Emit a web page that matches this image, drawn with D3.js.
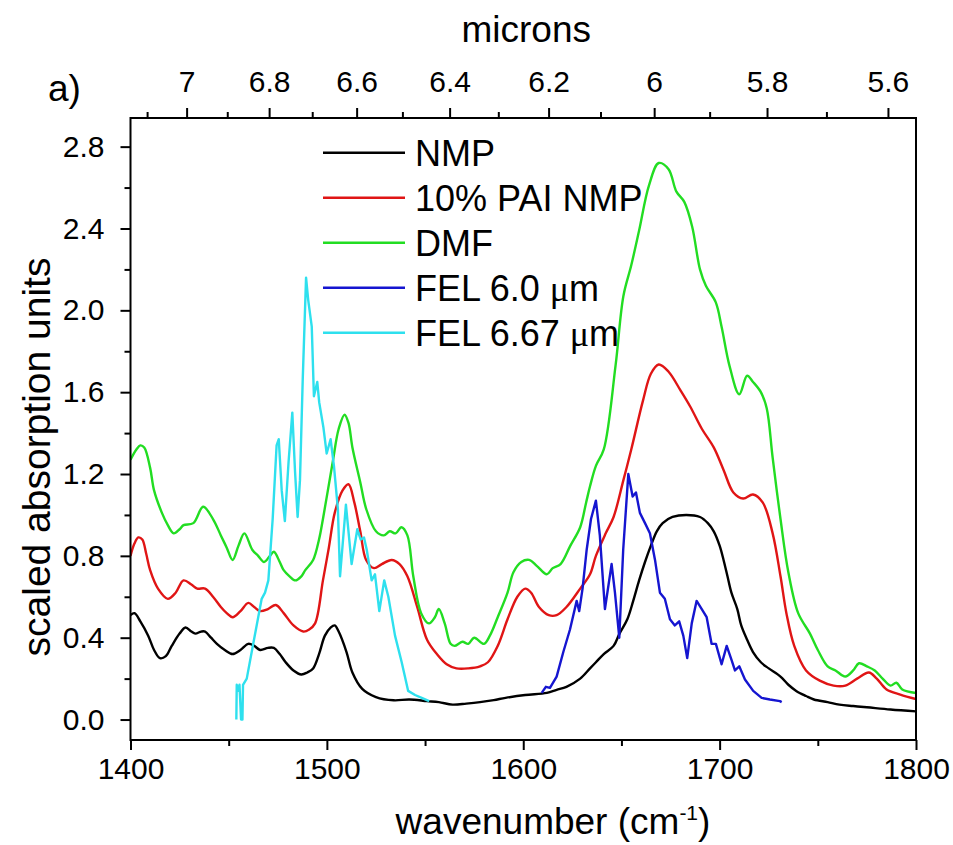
<!DOCTYPE html>
<html>
<head>
<meta charset="utf-8">
<script src="https://d3js.org/d3.v7.min.js"></script>
<style>
  body { margin: 0; background: #fff; }
  text { font-family: "Liberation Sans", Arial, sans-serif; fill: #000; }
</style>
</head>
<body>
<div id="chart"></div>
<script>
// data: [wavenumber cm-1, scaled absorption]
const nmp = [[1400,0.51],[1402,0.52],[1405,0.48],[1409,0.41],[1412,0.34],[1415,0.30],[1418,0.31],[1421,0.36],[1425,0.42],[1428,0.45],[1431,0.43],[1433,0.42],[1436,0.43],[1438,0.43],[1441,0.40],[1444,0.37],[1448,0.34],[1452,0.32],[1456,0.34],[1460,0.37],[1463,0.36],[1466,0.34],[1470,0.35],[1473,0.35],[1476,0.32],[1479,0.28],[1483,0.24],[1487,0.22],[1490,0.23],[1493,0.25],[1496,0.32],[1499,0.41],[1502,0.45],[1504,0.46],[1506,0.43],[1510,0.33],[1513,0.23],[1518,0.15],[1525,0.11],[1534,0.094],[1542,0.098],[1551,0.09],[1557,0.085],[1564,0.073],[1571,0.078],[1578,0.085],[1585,0.095],[1591,0.106],[1601,0.12],[1612,0.13],[1617,0.145],[1622,0.16],[1629,0.20],[1634,0.25],[1637,0.28],[1641,0.32],[1646,0.36],[1649,0.42],[1653,0.49],[1656,0.58],[1659,0.68],[1662,0.77],[1665,0.85],[1668,0.92],[1671,0.96],[1676,0.99],[1683,1.00],[1690,0.99],[1694,0.96],[1697,0.92],[1700,0.85],[1702,0.78],[1704,0.70],[1706,0.62],[1709,0.54],[1711,0.46],[1714,0.39],[1717,0.33],[1721,0.28],[1725,0.25],[1731,0.21],[1735,0.17],[1739,0.14],[1744,0.115],[1748,0.098],[1755,0.085],[1761,0.073],[1768,0.066],[1775,0.06],[1787,0.049],[1800,0.04]];

const paiNmp = [[1400,0.80],[1402,0.86],[1404,0.89],[1406,0.88],[1408,0.81],[1410,0.73],[1414,0.64],[1419,0.59],[1423,0.62],[1427,0.68],[1431,0.66],[1434,0.64],[1438,0.64],[1442,0.60],[1446,0.55],[1449,0.52],[1452,0.50],[1456,0.53],[1460,0.57],[1463,0.55],[1466,0.53],[1470,0.54],[1474,0.56],[1478,0.52],[1483,0.46],[1488,0.43],[1491,0.44],[1494,0.47],[1498,0.68],[1501,0.84],[1504,1.01],[1508,1.12],[1511,1.15],[1514,1.06],[1517,0.92],[1520,0.78],[1524,0.74],[1528,0.76],[1533,0.78],[1537,0.76],[1541,0.70],[1546,0.55],[1551,0.39],[1556,0.32],[1561,0.27],[1566,0.25],[1572,0.25],[1578,0.26],[1582,0.28],[1587,0.36],[1592,0.49],[1597,0.60],[1601,0.64],[1604,0.62],[1608,0.55],[1613,0.51],[1617,0.51],[1622,0.55],[1629,0.64],[1634,0.71],[1637,0.80],[1642,0.91],[1646,0.99],[1651,1.17],[1655,1.32],[1661,1.56],[1665,1.69],[1669,1.735],[1674,1.70],[1680,1.61],[1685,1.53],[1691,1.42],[1697,1.33],[1702,1.22],[1707,1.11],[1712,1.08],[1717,1.10],[1722,1.06],[1727,0.91],[1731,0.70],[1734,0.52],[1738,0.36],[1744,0.24],[1751,0.19],[1758,0.166],[1764,0.166],[1770,0.20],[1776,0.23],[1780,0.20],[1785,0.147],[1792,0.122],[1800,0.10]];

const dmf = [[1400,1.27],[1403,1.32],[1405,1.34],[1407,1.33],[1410,1.23],[1412,1.12],[1416,1.01],[1419,0.95],[1422,0.91],[1425,0.93],[1427,0.95],[1432,0.96],[1437,1.04],[1442,0.98],[1446,0.90],[1449,0.84],[1452,0.78],[1455,0.85],[1458,0.91],[1462,0.83],[1465,0.80],[1468,0.77],[1471,0.80],[1473,0.82],[1476,0.77],[1478,0.73],[1481,0.70],[1484,0.68],[1487,0.70],[1489,0.73],[1493,0.78],[1496,0.88],[1498,0.98],[1503,1.26],[1506,1.42],[1509,1.49],[1511,1.45],[1513,1.33],[1517,1.16],[1520,1.03],[1525,0.92],[1529,0.90],[1532,0.92],[1535,0.91],[1538,0.94],[1541,0.90],[1544,0.70],[1548,0.52],[1552,0.47],[1555,0.50],[1557,0.54],[1560,0.47],[1563,0.37],[1565,0.36],[1569,0.38],[1572,0.37],[1575,0.40],[1580,0.37],[1583,0.41],[1587,0.50],[1592,0.62],[1595,0.72],[1599,0.77],[1603,0.78],[1607,0.75],[1612,0.71],[1615,0.74],[1619,0.76],[1624,0.85],[1629,0.94],[1632,1.06],[1634,1.14],[1637,1.24],[1641,1.32],[1647,1.73],[1651,2.07],[1655,2.22],[1659,2.39],[1664,2.61],[1669,2.72],[1674,2.69],[1678,2.58],[1682,2.53],[1686,2.41],[1690,2.20],[1693,2.12],[1698,2.04],[1701,1.92],[1705,1.73],[1710,1.59],[1714,1.68],[1717,1.65],[1721,1.60],[1724,1.52],[1727,1.28],[1731,0.98],[1735,0.72],[1740,0.52],[1746,0.42],[1750,0.34],[1755,0.26],[1759,0.24],[1764,0.21],[1768,0.24],[1771,0.275],[1775,0.26],[1779,0.24],[1783,0.20],[1787,0.166],[1790,0.18],[1793,0.147],[1800,0.13]];

const fel60 = [[1609.4,0.13],[1611.5,0.16],[1613.6,0.155],[1617,0.21],[1620.4,0.33],[1623.8,0.44],[1627.2,0.58],[1628.5,0.53],[1630.2,0.64],[1632.3,0.83],[1634.5,0.98],[1637,1.07],[1639,0.90],[1641.6,0.54],[1645,0.76],[1646.7,0.62],[1648.9,0.40],[1650.9,0.83],[1653.5,1.20],[1655.7,1.09],[1657.4,1.11],[1659.4,1.01],[1662,0.96],[1664.5,0.91],[1667.1,0.78],[1669.6,0.62],[1672.1,0.59],[1674.7,0.49],[1677.2,0.46],[1679.4,0.48],[1681.5,0.41],[1683.5,0.30],[1685.8,0.47],[1688.3,0.58],[1690.9,0.54],[1693.4,0.50],[1695.9,0.37],[1698.1,0.37],[1701,0.27],[1703.6,0.36],[1706.1,0.29],[1707.8,0.24],[1710,0.26],[1712.9,0.196],[1717.1,0.14],[1721.4,0.106],[1725.6,0.098],[1730.7,0.09],[1731.6,0.085]];

const fel667 = [[1453.9,0.0],[1454.1,0.17],[1455.0,0.14],[1455.5,0.17],[1456.3,0.0],[1457.0,0.0],[1457.3,0.17],[1459.2,0.20],[1462.5,0.37],[1466.8,0.59],[1468.5,0.62],[1470.2,0.68],[1472.4,0.98],[1474.4,1.34],[1475.5,1.37],[1477.0,1.12],[1478.6,0.97],[1480.5,1.26],[1482.4,1.50],[1483.8,1.21],[1485.1,0.99],[1486.3,1.17],[1487.7,1.66],[1489.4,2.16],[1490.5,2.05],[1492.3,1.92],[1493.4,1.58],[1495.1,1.65],[1496.1,1.55],[1498.2,1.43],[1499.9,1.30],[1501.9,1.37],[1503.6,1.24],[1505.6,1.03],[1506.7,0.70],[1509.7,1.05],[1512.6,0.76],[1515.5,0.93],[1517.2,0.88],[1518.9,0.89],[1520.3,0.83],[1522.8,0.68],[1524.5,0.71],[1526.7,0.53],[1529.2,0.68],[1531.3,0.60],[1534.7,0.41],[1538.1,0.28],[1541.4,0.14],[1544.9,0.12],[1548.3,0.106],[1552.1,0.09]];

const seriesNames = ["NMP", "10% PAI NMP", "DMF", "FEL 6.0 \u03bcm", "FEL 6.67 \u03bcm"];
const seriesColors = ["#000000", "#e01515", "#22dd22", "#1515d0", "#2ee0ee"];

const xTicks = [1400, 1500, 1600, 1700, 1800];
const xMinor = [1450, 1550, 1650, 1750];
const yTicks = [0, 0.4, 0.8, 1.2, 1.6, 2.0, 2.4, 2.8];
const yMinor = [0.2, 0.6, 1.0, 1.4, 1.8, 2.2, 2.6];
const micronTicks = [7, 6.8, 6.6, 6.4, 6.2, 6, 5.8, 5.6];
const micronMinor = [7.1, 6.9, 6.7, 6.5, 6.3, 6.1, 5.9, 5.7];

// layout
const width = 953, height = 845;
const margin = { top: 118, right: 37, bottom: 105, left: 130.5 };
const w = width - margin.left - margin.right;
const h = height - margin.top - margin.bottom;

const svg = d3.select("#chart").append("svg")
    .attr("width", width)
    .attr("height", height);

const g = svg.append("g")
    .attr("transform", `translate(${margin.left},${margin.top})`);

const x = d3.scaleLinear().domain([1400, 1800]).range([0, w]);
const y = d3.scaleLinear().domain([-0.1, 2.94]).range([h, 0]);

// clip for the curves
svg.append("defs").append("clipPath").attr("id", "clip")
    .append("rect").attr("width", w).attr("height", h);

// curves
const smooth = d3.line().x(d => x(d[0])).y(d => y(d[1])).curve(d3.curveCatmullRom.alpha(0.5));
const jagged = d3.line().x(d => x(d[0])).y(d => y(d[1]));

const plot = g.append("g").attr("clip-path", "url(#clip)");
[[nmp, smooth], [paiNmp, smooth], [dmf, smooth], [fel60, jagged], [fel667, jagged]].forEach(([data, gen], i) => {
    plot.append("path")
        .datum(data)
        .attr("d", gen)
        .attr("fill", "none")
        .attr("stroke", seriesColors[i])
        .attr("stroke-width", 2.4)
        .attr("stroke-linejoin", "round");
});

// axes
function styleAxis(sel) {
    sel.select(".domain").remove();
    sel.selectAll(".tick line").attr("stroke", "#000").attr("stroke-width", 2);
    sel.selectAll(".tick text")
        .style("font-family", "'Liberation Sans', Arial, sans-serif")
        .style("font-size", "30px")
        .attr("fill", "#000");
}

g.append("g").attr("transform", `translate(0,${h})`)
    .call(d3.axisBottom(x).tickValues(xTicks).tickSize(10).tickPadding(8).tickFormat(d3.format("d")))
    .call(styleAxis);
g.append("g").attr("transform", `translate(0,${h})`)
    .call(d3.axisBottom(x).tickValues(xMinor).tickSize(6).tickFormat(""))
    .call(styleAxis);

g.append("g")
    .call(d3.axisLeft(y).tickValues(yTicks).tickSize(10).tickPadding(16).tickFormat(d3.format(".1f")))
    .call(styleAxis);
g.append("g")
    .call(d3.axisLeft(y).tickValues(yMinor).tickSize(6).tickFormat(""))
    .call(styleAxis);

// top axis: microns, placed at 10000/lambda on the wavenumber scale
g.append("g")
    .call(d3.axisTop(x).tickValues(micronTicks.map(m => 1e4 / m)).tickSize(10).tickPadding(16)
        .tickFormat((d, i) => micronTicks[i]))
    .call(styleAxis);
g.append("g")
    .call(d3.axisTop(x).tickValues(micronMinor.map(m => 1e4 / m).filter(v => v <= 1800)).tickSize(6).tickFormat(""))
    .call(styleAxis);

// frame
g.append("rect")
    .attr("width", w).attr("height", h)
    .attr("fill", "none").attr("stroke", "#000").attr("stroke-width", 2);

// titles
svg.append("text")
    .attr("x", margin.left + w / 2 + 3).attr("y", 42)
    .attr("text-anchor", "middle")
    .style("font-size", "37px")
    .text("microns");

svg.append("text")
    .attr("x", 48).attr("y", 101)
    .style("font-size", "37px")
    .text("a)");

const xt = svg.append("text")
    .attr("x", 553).attr("y", 834)
    .attr("text-anchor", "middle")
    .style("font-size", "37px");
xt.append("tspan").text("wavenumber (cm");
xt.append("tspan").attr("dy", -14).style("font-size", "21px").text("-1");
xt.append("tspan").attr("dy", 14).text(")");

svg.append("text")
    .attr("transform", "translate(50,457) rotate(-90)")
    .attr("text-anchor", "middle")
    .style("font-size", "39px")
    .text("scaled absorption units");

// legend
const legend = g.append("g").attr("transform", `translate(${323 - margin.left},${152.7 - margin.top})`);
seriesNames.forEach((name, i) => {
    const row = legend.append("g").attr("transform", `translate(0,${i * 45})`);
    row.append("line")
        .attr("x1", 0).attr("x2", 82)
        .attr("stroke", seriesColors[i]).attr("stroke-width", 2.4);
    const t = row.append("text")
        .attr("x", 92).attr("y", 13)
        .style("font-size", "36px");
    const parts = name.split("\u03bc");
    t.append("tspan").text(parts[0]);
    if (parts.length > 1) {
        t.append("tspan").style("font-family", "'Liberation Serif', serif").text("\u03bc");
        t.append("tspan").text(parts[1]);
    }
});
</script>
</body>
</html>
